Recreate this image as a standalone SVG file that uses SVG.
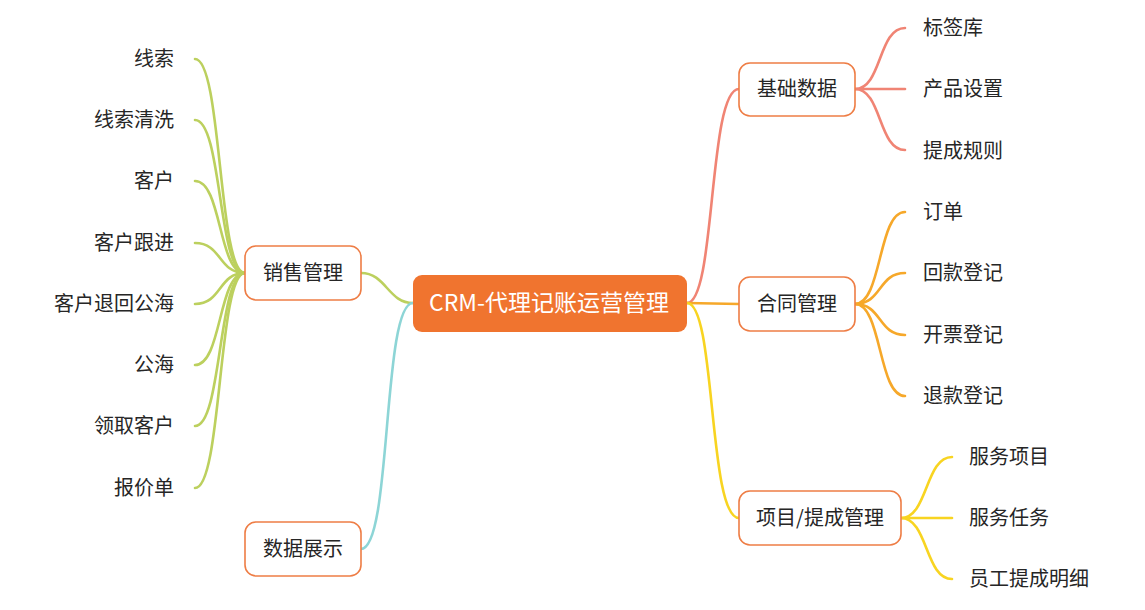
<svg xmlns="http://www.w3.org/2000/svg" width="1145" height="610" viewBox="0 0 1145 610">
<style>
text{font-family:"Noto Sans CJK SC","Liberation Sans",sans-serif;fill:#262626;font-size:20px;dominant-baseline:central}
.box{fill:#fff;stroke:#EE7D45;stroke-width:1.6}
.mid{text-anchor:middle}
.end{text-anchor:end}
.c{fill:none;stroke-width:2.6;stroke-linecap:round}
.g{stroke:#BCD05E}.cy{stroke:#8DD5D6}.s{stroke:#F08474}.o{stroke:#F6A82A}.y{stroke:#F8D421}
</style>
<rect width="1145" height="610" fill="#fff"/>
<g id="connectors">
<path class="c g" d="M413,303 C388,303 386,273 361,273"/>
<path class="c cy" d="M413,303 C382,303 392,549 361,549"/>
<path class="c s" d="M687,303 C716,303 708,89 739,89"/>
<path class="c o" d="M687,303 L739,304"/>
<path class="c y" d="M687,303 C716,303 708,518 739,518"/>
<path class="c g" d="M245,273 C218,273 222,59 195,59"/>
<path class="c g" d="M245,273 C218,273 222,120 195,120"/>
<path class="c g" d="M245,273 C218,273 222,181 195,181"/>
<path class="c g" d="M245,273 C218,273 222,243 195,243"/>
<path class="c g" d="M245,273 C218,273 222,304 195,304"/>
<path class="c g" d="M245,273 C218,273 222,365 195,365"/>
<path class="c g" d="M245,273 C218,273 222,426 195,426"/>
<path class="c g" d="M245,273 C218,273 222,488 195,488"/>
<path class="c s" d="M855,89 C882,89 878,28 905,28"/>
<path class="c s" d="M855,89 L905,89"/>
<path class="c s" d="M855,89 C882,89 878,150 905,150"/>
<path class="c o" d="M855,304 C882,304 878,212 905,212"/>
<path class="c o" d="M855,304 C882,304 878,273 905,273"/>
<path class="c o" d="M855,304 C882,304 878,335 905,335"/>
<path class="c o" d="M855,304 C882,304 878,396 905,396"/>
<path class="c y" d="M901,518 C928,518 925,457 952,457"/>
<path class="c y" d="M901,518 L952,518"/>
<path class="c y" d="M901,518 C928,518 925,579 952,579"/>
</g>
<g id="root">
<rect x="413" y="275" width="274" height="57" rx="9" fill="#F0742F"/>
<text class="mid" x="549" y="301" style="fill:#fff;font-size:23px">CRM-代理记账运营管理</text>
</g>
<g id="sales">
<rect class="box" x="245" y="246" width="116" height="54" rx="11"/>
<text class="mid" x="303" y="271">销售管理</text>
</g>
<g id="data-show">
<rect class="box" x="245" y="522" width="116" height="54" rx="11"/>
<text class="mid" x="303" y="547">数据展示</text>
</g>
<g id="base-data">
<rect class="box" x="739" y="63" width="116" height="53" rx="11"/>
<text class="mid" x="797" y="87">基础数据</text>
</g>
<g id="contract">
<rect class="box" x="739" y="277" width="116" height="54" rx="11"/>
<text class="mid" x="797" y="302">合同管理</text>
</g>
<g id="project">
<rect class="box" x="739" y="491" width="162" height="54" rx="11"/>
<text class="mid" x="820" y="516">项目/提成管理</text>
</g>
<g id="leaf-l1"><text class="end" x="174" y="57">线索</text></g>
<g id="leaf-l2"><text class="end" x="174" y="118">线索清洗</text></g>
<g id="leaf-l3"><text class="end" x="174" y="179">客户</text></g>
<g id="leaf-l4"><text class="end" x="174" y="241">客户跟进</text></g>
<g id="leaf-l5"><text class="end" x="174" y="302">客户退回公海</text></g>
<g id="leaf-l6"><text class="end" x="174" y="363">公海</text></g>
<g id="leaf-l7"><text class="end" x="174" y="424">领取客户</text></g>
<g id="leaf-l8"><text class="end" x="174" y="486">报价单</text></g>
<g id="leaf-r1"><text x="923" y="26">标签库</text></g>
<g id="leaf-r2"><text x="923" y="87">产品设置</text></g>
<g id="leaf-r3"><text x="923" y="149">提成规则</text></g>
<g id="leaf-r4"><text x="923" y="210">订单</text></g>
<g id="leaf-r5"><text x="923" y="271">回款登记</text></g>
<g id="leaf-r6"><text x="923" y="333">开票登记</text></g>
<g id="leaf-r7"><text x="923" y="394">退款登记</text></g>
<g id="leaf-r8"><text x="969" y="455">服务项目</text></g>
<g id="leaf-r9"><text x="969" y="516">服务任务</text></g>
<g id="leaf-r10"><text x="969" y="577">员工提成明细</text></g>
</svg>
